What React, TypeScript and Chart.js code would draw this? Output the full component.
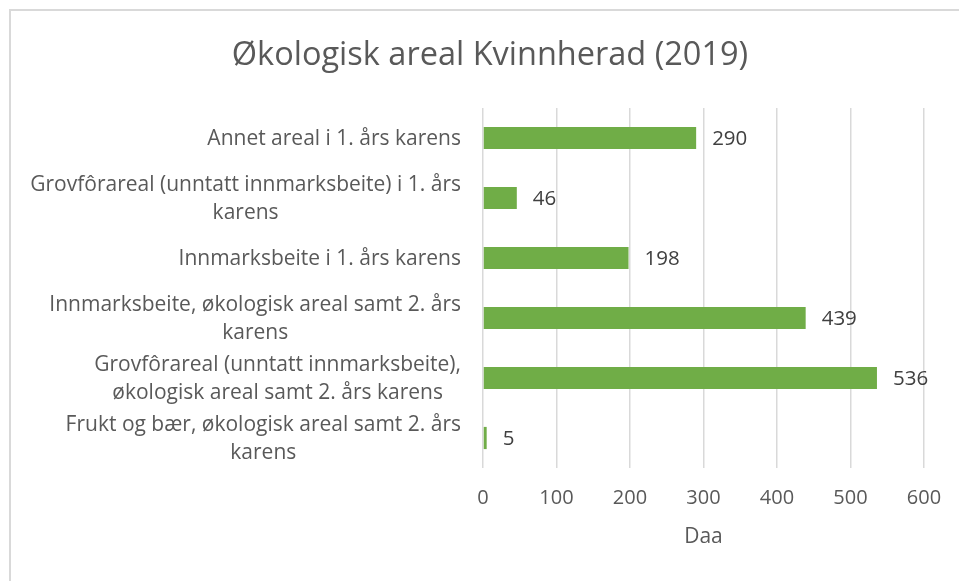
import React, { useEffect, useRef } from "react";
import { Chart, registerables } from "chart.js";

Chart.register(...registerables);

const chartTitle = "Økologisk areal Kvinnherad (2019)";
const xAxisTitle = "Daa";
const categoryLabels: string[][] = [
  ["Annet areal i 1. års karens"],
  ["Grovfôrareal (unntatt innmarksbeite) i 1. års", "karens"],
  ["Innmarksbeite i 1. års karens"],
  ["Innmarksbeite, økologisk areal samt 2. års", "karens"],
  ["Grovfôrareal (unntatt innmarksbeite),", "økologisk areal samt 2. års karens"],
  ["Frukt og bær, økologisk areal samt 2. års", "karens"],
];
const values: number[] = [290, 46, 198, 439, 536, 5];
const xMin = 0;
const xMax = 600;
const xStep = 100;

const FONT = "'Open Sans', sans-serif";
const TEXT = "#595959";

export default function App() {
  const ref = useRef<HTMLCanvasElement | null>(null);

  useEffect(() => {
    if (!ref.current) return;
    const labelPlugin = {
      id: "customLabels",
      afterDatasetsDraw(chart: any) {
        const ctx = chart.ctx;
        ctx.save();
        const ys = chart.scales.y;
        const left = chart.chartArea.left;
        ctx.font = `21px ${FONT}`;
        ctx.fillStyle = TEXT;
        ctx.textBaseline = "middle";
        ctx.textAlign = "center";
        const lh = 27.5;
        categoryLabels.forEach((lines, i) => {
          const cy = ys.getPixelForTick(i);
          const widest = Math.max(...lines.map((l) => ctx.measureText(l).width));
          const cx = left - 22 - widest / 2;
          lines.forEach((ln, j) => {
            ctx.fillText(ln, cx, cy + 1 + (j - (lines.length - 1) / 2) * lh);
          });
        });
        const meta = chart.getDatasetMeta(0);
        ctx.font = `20.5px ${FONT}`;
        ctx.fillStyle = "#404040";
        ctx.textAlign = "left";
        meta.data.forEach((bar: any, i: number) => {
          ctx.fillText(String(values[i]), bar.x + 16, bar.y + 1);
        });
        ctx.restore();
      },
    };

    const chart = new Chart(ref.current, {
      type: "bar",
      data: {
        labels: categoryLabels,
        datasets: [
          {
            data: values,
            backgroundColor: "#70AD47",
            borderWidth: 0,
            barPercentage: 0.37,
            categoryPercentage: 1,
          },
        ],
      },
      options: {
        indexAxis: "y",
        responsive: false,
        animation: false,
        layout: { padding: { left: 45, right: 47, top: 0, bottom: 41 } },
        plugins: {
          legend: { display: false },
          tooltip: { enabled: false },
          title: {
            display: true,
            text: chartTitle,
            color: TEXT,
            font: { family: FONT, size: 32.5, weight: "normal" },
            padding: { top: 25, bottom: 33 },
          },
        },
        scales: {
          x: {
            type: "linear",
            min: xMin,
            max: xMax,
            ticks: {
              stepSize: xStep,
              color: TEXT,
              font: { family: FONT, size: 20 },
              padding: 18,
            },
            grid: { color: "#d9d9d9", lineWidth: 1.5, drawTicks: false },
            border: { display: false },
            title: {
              display: true,
              text: xAxisTitle,
              color: TEXT,
              font: { family: FONT, size: 21 },
              padding: { top: 4, bottom: 0 },
            },
            afterFit: (s: any) => {
              s.height = 82;
            },
          },
          y: {
            ticks: { display: false },
            grid: { display: false },
            border: { display: false },
            afterFit: (s: any) => {
              s.width = 427;
            },
          },
        },
      },
      plugins: [labelPlugin],
    });
    return () => chart.destroy();
  }, []);

  return (
    <div
      style={{
        position: "fixed",
        left: 0,
        top: 0,
        width: 959,
        height: 581,
        overflow: "hidden",
        background: "#fff",
      }}
    >
      <div
        style={{
          position: "absolute",
          left: 9,
          top: 9,
          width: 960,
          height: 580,
          border: "2px solid #d9d9d9",
          background: "#fff",
        }}
      >
        <canvas ref={ref} width={960} height={580} style={{ display: "block" }} />
      </div>
    </div>
  );
}
